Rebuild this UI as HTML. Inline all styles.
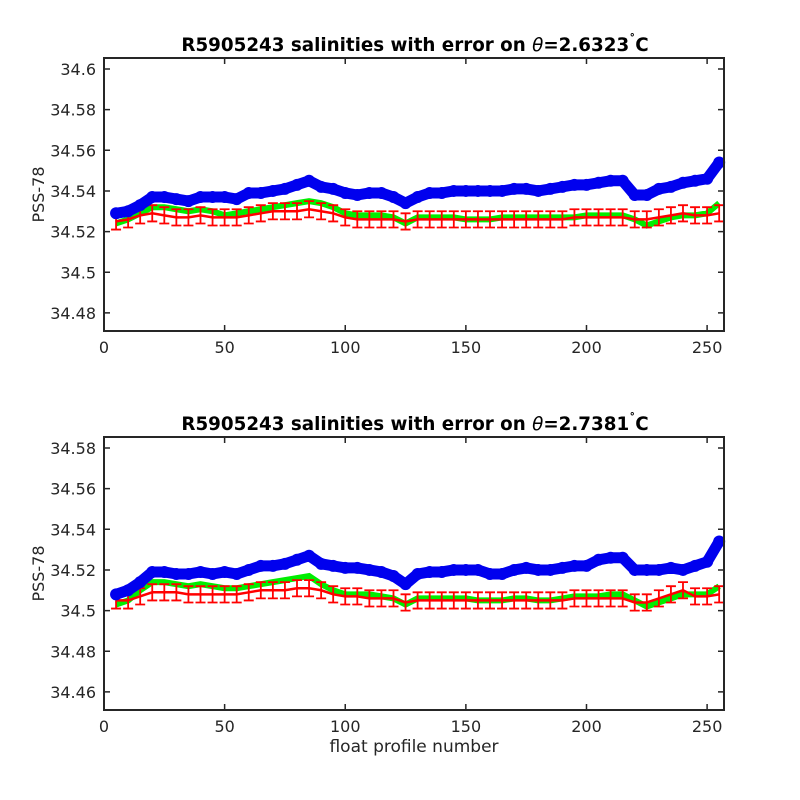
<!DOCTYPE html>
<html><head><meta charset="utf-8"><style>
body{margin:0;background:#fff}
svg{display:block;font-family:"DejaVu Sans","Liberation Sans",sans-serif}
</style></head><body>
<svg id="c" width="800" height="800"></svg>
<script>
const profiles=[];for(let p=5;p<=255;p+=5)profiles.push(p);
const topBlue=[.529,.530,.533,.537,.537,.536,.535,.537,.537,.537,.536,.539,.539,.540,.541,.543,.545,.542,.541,.539,.538,.539,.539,.537,.534,.537,.539,.539,.540,.540,.540,.540,.540,.541,.541,.540,.541,.542,.543,.543,.544,.545,.545,.538,.538,.541,.542,.544,.545,.546,.554];
const topGreen=[.524,.526,.529,.532,.532,.531,.530,.531,.530,.528,.529,.530,.531,.532,.533,.534,.535,.534,.532,.529,.528,.528,.528,.527,.524,.527,.527,.527,.527,.526,.526,.526,.527,.527,.527,.527,.527,.527,.527,.528,.528,.528,.528,.526,.523,.525,.527,.528,.528,.529,.534];
const topRed=[.525,.526,.528,.529,.528,.527,.527,.528,.527,.527,.527,.528,.529,.530,.530,.530,.531,.530,.529,.527,.526,.526,.526,.526,.525,.526,.526,.526,.526,.526,.526,.526,.526,.526,.526,.526,.526,.526,.527,.527,.527,.527,.527,.526,.526,.527,.528,.529,.528,.528,.529];
const botBlue=[.508,.510,.514,.519,.519,.518,.518,.519,.518,.519,.518,.520,.522,.522,.523,.525,.527,.523,.522,.521,.521,.520,.519,.517,.513,.518,.519,.519,.520,.520,.520,.518,.518,.520,.521,.520,.520,.521,.522,.522,.525,.526,.526,.520,.520,.520,.521,.520,.522,.524,.534];
const botGreen=[.503,.505,.510,.514,.514,.513,.512,.513,.512,.511,.511,.512,.513,.514,.515,.516,.517,.513,.510,.508,.508,.508,.507,.506,.503,.506,.506,.506,.506,.506,.505,.505,.505,.506,.506,.505,.505,.506,.507,.507,.507,.508,.508,.505,.502,.504,.506,.508,.508,.508,.512];
const botRed=[.505,.505,.507,.509,.509,.509,.508,.508,.508,.508,.508,.509,.510,.510,.510,.511,.511,.510,.508,.507,.507,.506,.506,.506,.504,.505,.505,.505,.505,.505,.505,.505,.505,.505,.505,.505,.505,.505,.506,.506,.506,.506,.506,.504,.504,.506,.508,.510,.507,.507,.508];
const errTop=profiles.map(()=>0.004);
const errBot=profiles.map(()=>0.004);
const xTicks=[0,50,100,150,200,250];
const topYTicks=[34.48,34.5,34.52,34.54,34.56,34.58,34.6];
const botYTicks=[34.46,34.48,34.5,34.52,34.54,34.56,34.58];
const NS="http://www.w3.org/2000/svg";
const svg=document.getElementById('c');
function mk(t,a,parent){const e=document.createElementNS(NS,t);for(const k in a)e.setAttribute(k,a[k]);(parent||svg).appendChild(e);return e;}
function panel(L,T,R,B,ymin,ymax,yt,blue,green,red,err,theta,name,xlabel){
  const g=mk('g',{});
  
  
  const X=v=>L+(v-0)/(257-0)*(R-L);
  const Y=v=>B-(v-ymin)/(ymax-ymin)*(B-T);
  const off=34;
  const gp=mk('polyline',{points:profiles.map((p,i)=>X(p)+','+Y(off+green[i])).join(' '),fill:'none',stroke:'#00ee00','stroke-width':6},g);
  
  
  profiles.forEach((p,i)=>{const x=X(p),y1=Y(off+red[i]-err[i]),y2=Y(off+red[i]+err[i]);
    const eb=mk('path',{d:`M${x},${y1}V${y2}M${x-5},${y1}H${x+5}M${x-5},${y2}H${x+5}`,stroke:'#ff0000','stroke-width':1.8,fill:'none'},g);
    
    });
  const rp=mk('polyline',{points:profiles.map((p,i)=>X(p)+','+Y(off+red[i])).join(' '),fill:'none',stroke:'#ff0000','stroke-width':2.5},g);
  
  
  const bp=mk('polyline',{points:profiles.map((p,i)=>X(p)+','+Y(off+blue[i])).join(' '),fill:'none',stroke:'#0000ee','stroke-width':11,'stroke-linejoin':'round'},g);
  
  
  profiles.forEach((p,i)=>{const c=mk('circle',{cx:X(p),cy:Y(off+blue[i]),r:6,fill:'#0000ee'},g);
    
    });
  const box=mk('rect',{x:L,y:T,width:R-L,height:B-T,fill:'none',stroke:'#262626','stroke-width':2},g);
  
  
  xTicks.forEach(t=>{const x=X(t);mk('path',{d:`M${x},${B}v-6M${x},${T}v6`,stroke:'#262626','stroke-width':1.5},g);
    const tx=mk('text',{x:x,y:B+22,'font-size':16,'text-anchor':'middle',fill:'#262626'},g);tx.textContent=t;
    
    });
  yt.forEach(t=>{const y=Y(t);mk('path',{d:`M${L},${y}h6M${R},${y}h-6`,stroke:'#262626','stroke-width':1.5},g);
    const tx=mk('text',{x:L-8,y:y+6,'font-size':16,'text-anchor':'end',fill:'#262626'},g);tx.textContent=+t.toFixed(2);
    
    });
  const yl=mk('text',{transform:`translate(${L-60},${(T+B)/2}) rotate(-90)`,'font-size':16,'text-anchor':'middle',fill:'#262626'},g);yl.textContent='PSS-78';
  
  
  const ti=mk('text',{x:(L+R)/2+1,y:T-7,'font-size':18.3,'font-weight':'bold','text-anchor':'middle',fill:'#000'},g);
  ti.innerHTML='R5905243 salinities with error on <tspan font-style="italic" font-weight="normal">θ</tspan>='+theta+'<tspan dy="-7" font-size="12">˚</tspan><tspan dy="7">C</tspan>';
  
  
  if(xlabel){const xl=mk('text',{x:(L+R)/2,y:B+42,'font-size':17,'text-anchor':'middle',fill:'#262626'},g);xl.textContent=xlabel;
    
    }
}
panel(104,58,724,331,34.4711,34.6054,topYTicks,topBlue,topGreen,topRed,errTop,'2.6323','top-panel',null);
panel(104,437,724,710,34.4511,34.5854,botYTicks,botBlue,botGreen,botRed,errBot,'2.7381','bottom-panel','float profile number');
</script>
</body></html>
